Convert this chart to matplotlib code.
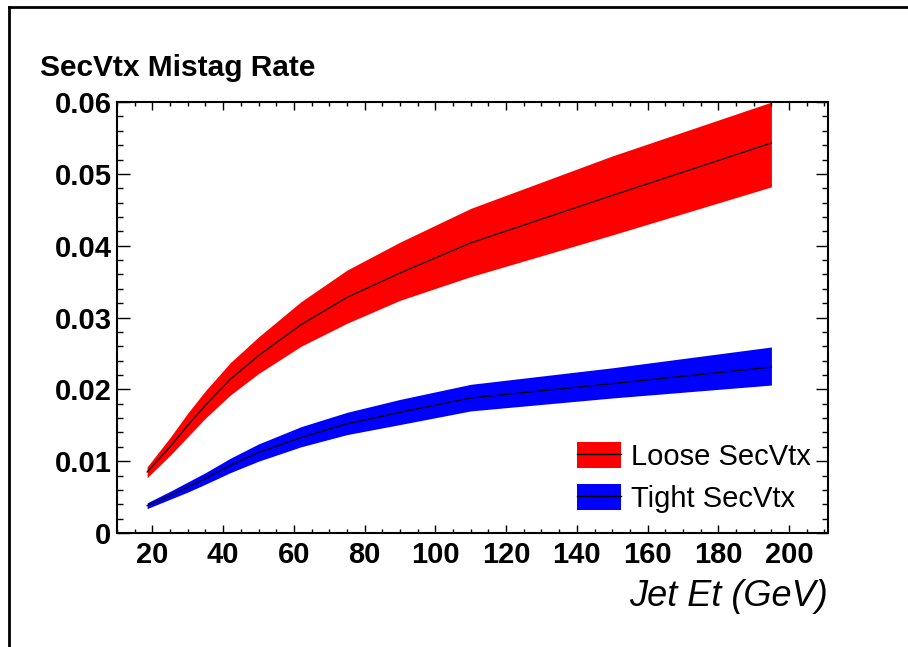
import numpy as np
import matplotlib
matplotlib.use("Agg")
import matplotlib.pyplot as plt
from matplotlib.patches import Patch
from matplotlib.lines import Line2D
from matplotlib.ticker import MultipleLocator


# ---------------------------------------------------------
# Data
# ---------------------------------------------------------
jet_et = [18.5, 25, 30, 35, 42, 50, 62, 75, 90, 110, 150, 195]

loose_mid = [0.0085, 0.0120, 0.0150, 0.0178, 0.0214, 0.0247, 0.0290, 0.0328, 0.0362, 0.0404, 0.0470, 0.0543]
loose_hi  = [0.0092, 0.0133, 0.0167, 0.0198, 0.0237, 0.0273, 0.0322, 0.0366, 0.0405, 0.0452, 0.0525, 0.0600]
loose_lo  = [0.0077, 0.0108, 0.0134, 0.0160, 0.0192, 0.0222, 0.0260, 0.0292, 0.0324, 0.0357, 0.0415, 0.0482]

tight_mid = [0.0038, 0.0052, 0.0064, 0.0076, 0.0094, 0.0112, 0.0133, 0.0152, 0.0168, 0.0188, 0.0208, 0.0231]
tight_hi  = [0.0042, 0.0058, 0.0071, 0.0084, 0.0104, 0.0124, 0.0148, 0.0168, 0.0186, 0.0207, 0.0230, 0.0259]
tight_lo  = [0.0034, 0.0047, 0.0057, 0.0068, 0.0084, 0.0100, 0.0120, 0.0137, 0.0151, 0.0170, 0.0188, 0.0206]

x_ticks = [20, 40, 60, 80, 100, 120, 140, 160, 180, 200]
y_ticks = [0, 0.01, 0.02, 0.03, 0.04, 0.05, 0.06]
y_tick_labels = ["0", "0.01", "0.02", "0.03", "0.04", "0.05", "0.06"]

plt.rcParams["font.family"] = ["Liberation Sans", "DejaVu Sans"]

fig = plt.figure(figsize=(9.08, 6.47), dpi=100)
ax = fig.add_axes([0.1289, 0.1762, 0.783, 0.666])

# bands + central lines
ax.fill_between(jet_et, loose_lo, loose_hi, color="#ff0000", lw=0)
ax.plot(jet_et, loose_mid, color="black", lw=0.9)
ax.fill_between(jet_et, tight_lo, tight_hi, color="#0000ff", lw=0)
ax.plot(jet_et, tight_mid, color="black", lw=0.9)

ax.set_xlim(10, 211)
ax.set_ylim(0, 0.06)
ax.set_xticks(x_ticks)
ax.set_xticklabels([str(v) for v in x_ticks])
ax.set_yticks(y_ticks)
ax.set_yticklabels(y_tick_labels)
ax.xaxis.set_minor_locator(MultipleLocator(5))
ax.yaxis.set_minor_locator(MultipleLocator(0.002))

ax.tick_params(which="both", direction="in", top=True, right=True, width=1.0)
ax.tick_params(which="major", axis="y", length=9)
ax.tick_params(which="minor", axis="y", length=4.5)
ax.tick_params(which="major", axis="x", length=6)
ax.tick_params(which="minor", axis="x", length=3)
ax.tick_params(axis="y", which="major", labelsize=21, pad=4)
ax.tick_params(axis="x", which="major", labelsize=21, pad=6)
for lab in ax.get_xticklabels() + ax.get_yticklabels():
    lab.set_fontweight("bold")
for sp in ax.spines.values():
    sp.set_linewidth(1.5)

ax.set_xlabel("Jet Et (GeV)", fontsize=26, style="italic", loc="right", labelpad=7)

fig.text(40 / 908, 1 - 68 / 647, "SecVtx Mistag Rate", fontsize=21.5,
         fontweight="bold", va="center", ha="left")

# legend: filled box with the central line through it
handles = [
    (Patch(facecolor="#ff0000", edgecolor="none"), Line2D([], [], color="black", lw=1)),
    (Patch(facecolor="#0000ff", edgecolor="none"), Line2D([], [], color="black", lw=1)),
]
ax.legend(handles, ["Loose SecVtx", "Tight SecVtx"], loc="lower left",
          bbox_to_anchor=(0.623, 0.005), frameon=False, fontsize=21,
          handlelength=1.5, handleheight=1.0, labelspacing=0.45, handletextpad=0.35,
          borderaxespad=0.2)

# page border (top and left edges only)
fig.add_artist(Line2D([9 / 908, 9 / 908], [0, 1 - 7 / 647], color="black", lw=2,
                      transform=fig.transFigure))
fig.add_artist(Line2D([9 / 908, 1], [1 - 7 / 647, 1 - 7 / 647], color="black", lw=2,
                      transform=fig.transFigure))

fig.savefig("out.png", dpi=100)
